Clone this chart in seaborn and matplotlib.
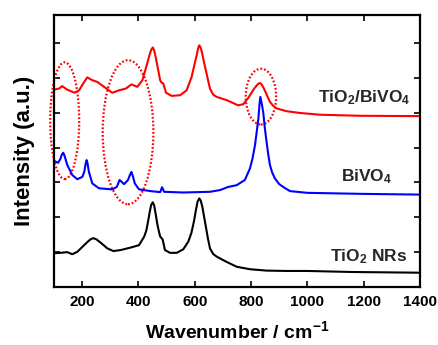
import numpy as np
import pandas as pd
import matplotlib
matplotlib.use("Agg")
import matplotlib.pyplot as plt
from matplotlib.patches import Ellipse
import seaborn as sns

# Raman spectra (wavenumber in cm^-1, intensity in arbitrary units, offset stacked)
tio2_x = [100, 124, 147, 165, 183, 207, 220, 230, 240, 250, 266, 289, 311, 337, 372,
          402, 420, 428, 435, 440, 445, 451, 456, 461, 467, 473, 477, 486, 494, 512,
          536, 559, 577, 588, 597, 604, 610, 616, 621, 627, 633, 640, 647, 654, 665,
          678, 713, 749, 796, 855, 927, 1000, 1162, 1400]
tio2_y = [0.97, 0.98, 1.00, 0.94, 1.01, 1.20, 1.30, 1.37, 1.40, 1.37, 1.27, 1.11, 1.03, 1.06, 1.13,
          1.20, 1.44, 1.62, 1.92, 2.15, 2.35, 2.43, 2.33, 2.10, 1.80, 1.58, 1.45, 1.36, 1.06, 0.98,
          0.98, 1.08, 1.30, 1.55, 1.88, 2.20, 2.45, 2.54, 2.48, 2.30, 2.02, 1.70, 1.38, 1.11, 0.95,
          0.87, 0.72, 0.58, 0.51, 0.47, 0.46, 0.46, 0.43, 0.41]

bivo4_x = [100, 114, 122, 128, 133, 138, 147, 165, 183, 201, 208, 212, 216, 219, 224,
           236, 260, 307, 323, 333, 349, 363, 370, 375, 380, 387, 402, 443, 477, 484,
           491, 559, 654, 690, 719, 749, 778, 796, 805, 814, 820, 826, 830, 833, 838,
           843, 849, 855, 861, 867, 875, 885, 900, 914, 938, 1000, 1200, 1400]
bivo4_y = [3.62, 3.56, 3.66, 3.80, 3.85, 3.75, 3.50, 3.21, 3.09, 3.16, 3.32, 3.52, 3.64, 3.55, 3.30,
           2.97, 2.83, 2.80, 2.87, 3.07, 2.95, 3.07, 3.22, 3.30, 3.18, 2.97, 2.80, 2.75, 2.72, 2.86,
           2.73, 2.71, 2.73, 2.78, 2.87, 2.92, 3.07, 3.40, 3.68, 4.07, 4.45, 4.83, 5.25, 5.45, 5.25,
           5.02, 4.55, 4.16, 3.80, 3.50, 3.28, 3.11, 2.95, 2.87, 2.75, 2.70, 2.67, 2.65]

comp_x = [100, 118, 129, 147, 173, 189, 204, 218, 236, 254, 278, 307, 331, 355, 375,
          396, 414, 431, 438, 445, 451, 456, 461, 467, 473, 477, 482, 488, 498, 518,
          548, 571, 589, 598, 607, 612, 616, 620, 625, 630, 636, 642, 648, 654, 665,
          678, 713, 754, 772, 789, 800, 810, 820, 826, 832, 838, 845, 852, 860, 867,
          878, 891, 927, 974, 1045, 1187, 1400]
comp_y = [5.66, 5.69, 5.76, 5.66, 5.57, 5.64, 5.84, 6.01, 5.93, 5.88, 5.74, 5.57, 5.64, 5.69, 5.81,
          5.74, 5.93, 6.41, 6.62, 6.80, 6.87, 6.78, 6.60, 6.35, 6.10, 5.93, 5.86, 5.84, 5.57, 5.48,
          5.50, 5.64, 6.03, 6.35, 6.65, 6.85, 6.93, 6.88, 6.75, 6.55, 6.33, 6.12, 5.90, 5.69, 5.52,
          5.45, 5.36, 5.21, 5.24, 5.41, 5.55, 5.68, 5.78, 5.83, 5.85, 5.80, 5.70, 5.58, 5.43, 5.31,
          5.20, 5.12, 5.04, 4.99, 4.94, 4.91, 4.90]

x_ticks = [200, 400, 600, 800, 1000, 1200, 1400]
y_ticks = [1, 2, 3, 4, 5, 6, 7]

sns.set_style("ticks")
plt.rcParams["font.family"] = ["Liberation Sans", "DejaVu Sans"]
plt.rcParams["font.weight"] = "bold"
plt.rcParams["mathtext.fontset"] = "custom"
for key in ("rm", "it", "bf", "sf"):
    plt.rcParams["mathtext." + key] = "Liberation Sans:bold"
plt.rcParams["mathtext.default"] = "rm"

fig = plt.figure(figsize=(4.38, 3.45), dpi=100)
ax = fig.add_axes([54 / 438, 58 / 345, 366 / 438, 272 / 345])

lw = 1.5
sns.lineplot(x=tio2_x, y=tio2_y, ax=ax, color="black", lw=lw, sort=False, estimator=None)
sns.lineplot(x=bivo4_x, y=bivo4_y, ax=ax, color="#0000FF", lw=lw, sort=False, estimator=None)
sns.lineplot(x=comp_x, y=comp_y, ax=ax, color="#FF0000", lw=lw, sort=False, estimator=None)

# dotted ellipses marking the BiVO4 bands in the composite
for cx, cy, w, h in [(138, 4.77, 103, 3.35), (363, 4.44, 180, 4.13), (835, 5.46, 108, 1.6)]:
    ax.add_patch(Ellipse((cx, cy), w, h, fill=False, edgecolor="#FF0000",
                         lw=1.6, linestyle=(0, (0.8, 0.9)), clip_on=False))

txt = dict(fontsize=12.5, fontweight="bold", ha="right", va="baseline")
ax.text(1367, 5.31, "TiO$_2$/BiVO$_4$", **txt)
ax.text(1301, 3.02, "BiVO$_4$", **txt)
ax.text(1353, 0.75, "TiO$_2$ NRs", **txt)

ax.set_xlim(100, 1400)
ax.set_ylim(0, 7.8)
ax.set_xticks(x_ticks)
ax.set_xticklabels([str(t) for t in x_ticks])
ax.set_yticks(y_ticks)
ax.set_yticklabels([])
ax.tick_params(direction="in", length=4, width=1.2, top=True, right=True,
               labelsize=11, pad=6, color="black", labelcolor="black")
for lab in ax.get_xticklabels():
    lab.set_fontweight("bold")
for sp in ax.spines.values():
    sp.set_linewidth(1.6)
    sp.set_edgecolor("black")
    sp.set_visible(True)

ax.set_xlabel("Wavenumber / cm$^{-1}$", fontsize=14, fontweight="bold", labelpad=8,
              color="black")
ax.set_ylabel("Intensity (a.u.)", fontsize=16, fontweight="bold", labelpad=8,
              color="black")

fig.savefig("out.png", dpi=100)
